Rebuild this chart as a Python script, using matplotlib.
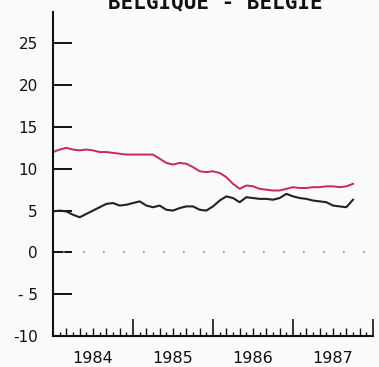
import matplotlib
matplotlib.use('Agg')
import matplotlib.pyplot as plt
import numpy as np

# monthly data, Jan 1984 .. Oct 1987
months = np.arange(46)
red_series = [12.0, 12.3, 12.5, 12.3, 12.2, 12.3, 12.2, 12.0, 12.0, 11.9,
              11.8, 11.7, 11.7, 11.7, 11.7, 11.7, 11.2, 10.7, 10.5, 10.7,
              10.6, 10.2, 9.7, 9.6, 9.7, 9.5, 9.0, 8.2, 7.6, 8.0,
              7.9, 7.6, 7.5, 7.4, 7.4, 7.6, 7.8, 7.7, 7.7, 7.8,
              7.8, 7.9, 7.9, 7.8, 7.9, 8.2]
black_series = [4.9, 5.0, 4.9, 4.5, 4.2, 4.6, 5.0, 5.4, 5.8, 5.9,
                5.6, 5.7, 5.9, 6.1, 5.6, 5.4, 5.6, 5.1, 5.0, 5.3,
                5.5, 5.5, 5.1, 5.0, 5.5, 6.2, 6.7, 6.5, 6.0, 6.6,
                6.5, 6.4, 6.4, 6.3, 6.5, 7.0, 6.7, 6.5, 6.4, 6.2,
                6.1, 6.0, 5.6, 5.5, 5.4, 6.3]
years = ['1984', '1985', '1986', '1987']
yticks = [-10, -5, 0, 5, 10, 15, 20, 25]
ytick_labels = ['-10', '- 5', '0', '5', '10', '15', '20', '25']

W, H = 379, 367
fig = plt.figure(figsize=(W / 100, H / 100), dpi=100, facecolor='#fafafa')
ax = fig.add_axes([53 / W, 31 / H, 320 / W, 324 / H])
ax.set_facecolor('none')

ax.plot(months, red_series, color='#c8285a', lw=1.4)
ax.plot(months, black_series, color='#222222', lw=1.5)
ax.axhline(0, xmin=1.5 / 48, color='#888888', lw=1.2, linestyle=(0, (1, 11)))

ax.set_xlim(0, 48)
ax.set_ylim(-10, 28.75)

for s in ['top', 'right']:
    ax.spines[s].set_visible(False)
for s in ['left', 'bottom']:
    ax.spines[s].set_linewidth(1.5)
    ax.spines[s].set_color('#111111')

# y axis
ax.set_yticks(yticks)
ax.set_yticklabels(ytick_labels)
ax.tick_params(axis='y', direction='in', length=13.5, width=1.4,
               pad=11, labelsize=11, colors='#111111')

# x axis: years (long), every 2nd month (medium)
ax.set_xticks([0, 12, 24, 36, 48])
ax.set_xticklabels([])
ax.set_xticks([m for m in range(2, 48, 2) if m % 12], minor=True)
ax.tick_params(axis='x', which='major', direction='in', length=12, width=1.2, color='#111111')
ax.tick_params(axis='x', which='minor', direction='in', length=6, width=1.0, color='#111111')

# odd months (small) + year labels
sec = ax.secondary_xaxis('bottom')
sec.spines['bottom'].set_visible(False)
sec.set_xticks([6, 18, 30, 42])
sec.set_xticklabels(years)
sec.set_xticks(list(range(1, 48, 2)), minor=True)
sec.tick_params(which='major', length=0, pad=11, labelsize=11.5, colors='#111111')
sec.tick_params(which='minor', direction='in', length=3, width=1.0, color='#111111')

fig.text(215 / W, 1 - 8.5 / H, 'BELGIQUE - BELGIE', ha='center', va='baseline',
         family='DejaVu Sans Mono', fontweight='bold', fontsize=15, color='#111111')

fig.savefig('out.png', dpi=100, facecolor=fig.get_facecolor())
